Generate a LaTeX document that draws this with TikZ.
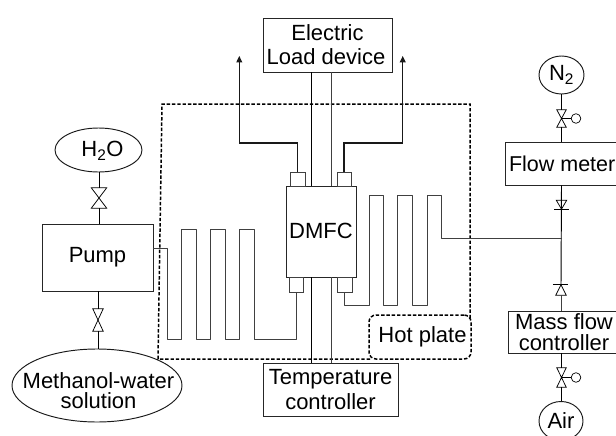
\documentclass[tikz,border=0pt]{standalone}
\usepackage{fontspec}
\setmainfont{Liberation Sans}
\usetikzlibrary{arrows.meta,shapes.geometric,calc}
\tikzset{
  pipe/.style={line width=0.95pt,draw=black!75},
  wire/.style={line width=0.95pt,draw=black},
  power/.style={line width=1.15pt,draw=black!90,-{Triangle[length=6.5pt,width=6pt]}},
  boxn/.style={draw=black!85,line width=0.95pt,rectangle,inner sep=0pt,align=center,font=\fontsize{22}{24}\selectfont},
  elln/.style={draw=black!90,line width=0.95pt,ellipse,inner sep=0pt},
  elltext/.style={inner sep=0pt,align=center,font=\fontsize{22}{20}\selectfont},
  port/.style={draw=black!75,line width=0.95pt,rectangle,inner sep=0pt},
  valvebox/.style={rectangle,inner sep=0pt},
  ballv/.style={draw=black,line width=0.7pt,circle,inner sep=0pt,minimum size=9.6pt},
  heat/.style={line width=1.5pt,draw=black,dash pattern=on 3.4pt off 1.9pt},
}
\newcommand{\valveshape}[1]{\draw[line width=0.75pt] (#1.north west) -- (#1.north east) -- (#1.south west) -- (#1.south east) -- cycle;}
\begin{document}
\begin{tikzpicture}[x=1pt,y=-1pt]
\clip (0,0) rectangle (616,436);
% heating zone
\draw[heat] (370,359) -- (158,359) -- (162,104) -- (470,104) -- (470,320);
\node[draw=black,heat,rectangle,rounded corners=7pt,minimum width=102pt,minimum height=44pt,inner sep=0pt,font=\fontsize{22}{24}\selectfont] (hot) at (420,337) {\hspace*{5pt}Hot plate};
% left side
\node[elln,minimum width=87pt,minimum height=44pt,label={[elltext,xshift=4pt,yshift=-1pt]center:H\textsubscript{2}O}] (h2o) at (98.5,150) {};
\node[valvebox,minimum width=15pt,minimum height=20pt] (v1) at (99,198) {};
\valveshape{v1}
\node[boxn,minimum width=111pt,minimum height=67pt] (pump) at (97.5,257.5) {\raisebox{-1pt}{Pump}};
\node[valvebox,minimum width=10pt,minimum height=22pt] (v2) at (98,320) {};
\valveshape{v2}
\node[elln,minimum width=170pt,minimum height=73pt,label={[elltext,yshift=-5pt,xshift=1.5pt]center:Methanol-water\\solution}] (meoh) at (97,385.5) {};
\draw[wire] (v1.center |- h2o.south) -- (v1.north);
\draw[wire] (v1.south) -- (v1.south |- pump.north);
\draw[wire] (v2.north) -- (v2.north |- pump.south);
\draw[wire] (v2.south) -- (v2.south |- meoh.north);
% cell
\node[boxn,minimum width=70pt,minimum height=91pt] (dmfc) at (321,231.5) {\raisebox{2pt}{DMFC}};
\node[port,minimum width=15pt,minimum height=14pt] (pa) at (297.5,179) {};
\node[port,minimum width=14pt,minimum height=14pt] (pb) at (344,179) {};
\node[port,minimum width=14pt,minimum height=15pt] (pc) at (296.5,284.5) {};
\node[port,minimum width=15pt,minimum height=15pt] (pd) at (344.5,284.5) {};
% load and temperature
\node[boxn,minimum width=129pt,minimum height=54pt] (load) at (327.5,45) {Electric\\\hspace*{-3pt}Load device};
\node[boxn,minimum width=135pt,minimum height=53pt] (temp) at (330.5,389.5) {\raisebox{-1pt}{Temperature}\\[1pt]\raisebox{-1pt}{controller}};
\coordinate (w1) at (311,0);
\coordinate (w2) at (331,0);
\draw[wire] (w1 |- load.south) -- (w1 |- dmfc.north);
\draw[pipe] (w2 |- load.south) -- (w2 |- dmfc.north);
\draw[wire] (w1 |- dmfc.south) -- (w1 |- temp.north);
\draw[pipe] (w2 |- dmfc.south) -- (w2 |- temp.north);
% power outputs
\coordinate (tipa) at (239.3,56);
\coordinate (tipb) at (402.7,56);
\draw[power] (pa.north) -- (297.5,143) -| (tipa);
\draw[power] (pb.north) -- (344,143) -| (tipb);
% anode serpentine
\draw[pipe,line join=round] ([yshift=9.5pt]pump.east) -- (167.5,248) -- (167.5,339) -- (181.5,339) -- (181.5,229) -- (196,229) -- (196,339) -- (210.5,339) -- (210.5,229) -- (225,229) -- (225,339) -- (239.5,339) -- (239.5,229) -- (254,229) -- (254,339) -- (296.5,339) -- (pc.south);
% right side
\node[elln,minimum width=45pt,minimum height=38pt,label={[elltext]center:N\textsubscript{2}}] (n2) at (561.5,75) {};
\node[valvebox,minimum width=9pt,minimum height=17pt] (v3) at (561.5,118.5) {};
\valveshape{v3}
\node[ballv] (b3) at (576,118.5) {};
\draw[line width=0.75pt] (v3.center) -- (b3.west);
\node[boxn,minimum width=113pt,minimum height=43pt,font=\fontsize{21.5}{24}\selectfont] (flow) at (562.2,163.5) {Flow meter};
\node[valvebox,minimum width=10pt,minimum height=8.5pt] (c1) at (561.5,204.7) {};
\draw[line width=0.75pt] (c1.north west) -- (c1.north east) -- (c1.south) -- cycle;
\draw[line width=0.75pt] ([xshift=-2pt]c1.south west) -- ([xshift=2pt]c1.south east);
\node[valvebox,minimum width=10pt,minimum height=10pt] (c2) at (561,290) {};
\draw[line width=0.75pt] (c2.south west) -- (c2.south east) -- (c2.north) -- cycle;
\draw[line width=0.75pt] ([xshift=-3pt]c2.north west) -- ([xshift=2pt]c2.north east);
\node[boxn,minimum width=112pt,minimum height=42pt,font=\fontsize{22}{21}\selectfont] (mass) at (564,332) {Mass flow\\controller};
\node[valvebox,minimum width=9pt,minimum height=19pt] (v4) at (561.5,377.5) {};
\valveshape{v4}
\node[ballv] (b4) at (576,377.5) {};
\draw[line width=0.75pt] (v4.center) -- (b4.west);
\node[elln,minimum width=44pt,minimum height=39pt,label={[elltext]center:Air}] (air) at (561,421) {};
\draw[wire] (n2.south) -- (v3.north);
\draw[wire] (v3.south) -- (v3.south |- flow.north);
\draw[wire] (c1.north |- flow.south) -- (c2.north);
\draw[pipe] (c2.south) -- (c2.south |- mass.north);
\draw[wire] (v4.north |- mass.south) -- (v4.north);
\draw[wire] (v4.south) -- (v4.south |- air.north);
\coordinate (junc) at (561.5,238.5);
% cathode serpentine
\draw[pipe,line join=round] (pd.south) -- (344.5,305) -- (369,305) -- (369,195) -- (383,195) -- (383,305) -- (397.5,305) -- (397.5,195) -- (412,195) -- (412,305) -- (427,305) -- (427,195) -- (441,195) -- (441,238.5) -- (junc);
\end{tikzpicture}
\end{document}
